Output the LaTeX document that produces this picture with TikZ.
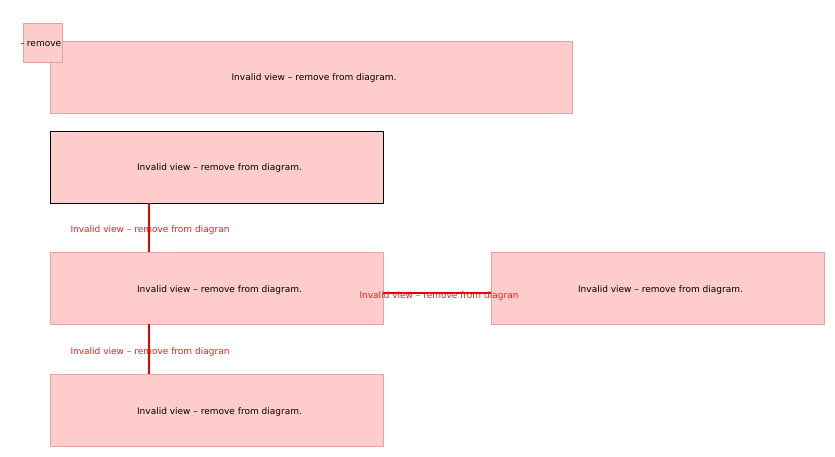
\documentclass[tikz,border=0pt]{standalone}
\usepackage{fontspec}
\setmainfont{DejaVu Sans}
\definecolor{boxfill}{RGB}{255,204,204}
\definecolor{boxline}{RGB}{225,165,165}
\definecolor{linkred}{RGB}{230,0,0}
\definecolor{labred}{RGB}{240,30,30}
\newcommand\ivtext{\hspace*{6pt}Invalid view – remove from diagram.}
\begin{document}
\begin{tikzpicture}[x=1pt,y=-1pt,
  view/.style={draw=boxline,fill=boxfill,line width=0.6pt,inner sep=0pt,text height=8pt,text depth=0pt,font=\fontsize{9}{10}\selectfont},
  link/.style={draw=linkred,line width=1.1pt},
  linklabel/.style={text=labred,font=\fontsize{9}{10}\selectfont,inner sep=0pt,text height=8pt,text depth=0pt}]
\useasboundingbox (0,0) rectangle (835,457);
\node[view,minimum width=522pt,minimum height=72pt] (b1) at (311,77) {\ivtext};
\node[view,minimum width=39pt,minimum height=39pt] (s) at (42.5,42.5) {};
\node[inner sep=0pt,text height=8pt,text depth=0pt,font=\fontsize{9}{10}\selectfont] (st) at (41,43) {- remove};
\node[view,draw=black,minimum width=333pt,minimum height=72pt] (b2) at (216.5,167) {\ivtext};
\node[view,minimum width=333pt,minimum height=72pt] (b3) at (216.5,288) {\ivtext};
\node[view,minimum width=333pt,minimum height=72pt] (b4) at (657.5,288) {\ivtext};
\node[view,minimum width=333pt,minimum height=72pt] (b5) at (216.5,410) {\ivtext};
\draw[link] (b2.south -| 149,0) -- (b3.north -| 149,0);
\draw[link] (b3.south -| 149,0) -- (b5.north -| 149,0);
\draw[link] (b3.east |- 0,293) -- (b4.west |- 0,293);
\node[linklabel] (l1) at (150,229) {Invalid view – remove from diagran};
\node[linklabel] (l2) at (150,350) {Invalid view – remove from diagran};
\node[linklabel] (l3) at (439,294) {Invalid view – remove from diagran};
\end{tikzpicture}
\end{document}
